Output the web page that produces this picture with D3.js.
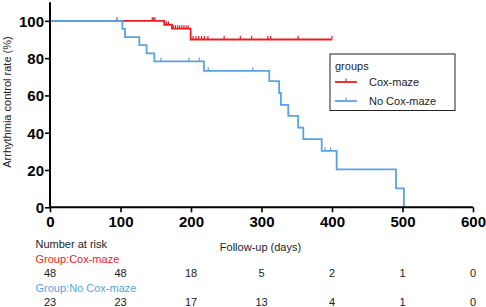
<!DOCTYPE html>
<html>
<head>
<meta charset="utf-8">
<script src="https://cdn.jsdelivr.net/npm/d3@7"></script>
<style>
html,body{margin:0;padding:0;background:#fff;}
svg{display:block;font-family:"Liberation Sans",Arial,sans-serif;}
</style>
</head>
<body>
<svg id="chart" width="486" height="307"></svg>
<script>
// ---- data ----
const groups = ["Cox-maze", "No Cox-maze"];
const colors = ["#ec1c24", "#5aa2e8"];
const coxTimes  = [0, 162, 173, 199.5, 400];
const coxSurv   = [100, 97.9, 95.8, 90, 90];
const coxCensor = [95, 145, 147, 149, 165, 168, 175, 178, 181, 184, 187, 190, 193, 196, 203, 207, 211, 215, 219, 224, 247, 270, 286, 309, 313, 352, 400];
const noTimes   = [0, 102.6, 106.4, 126.7, 137, 148, 218.4, 311, 325, 327.5, 338, 352, 359.3, 385.4, 406.6, 490.8, 502];
const noSurv    = [100, 95.7, 91.3, 87, 82.6, 78.3, 73.2, 67.7, 61.3, 54.9, 49, 42.7, 36.6, 30.3, 20.3, 10.2, 0];
const noCensor  = [157.4, 197, 211.8, 224.5, 287.5, 390, 398];
const xTicks = [0, 100, 200, 300, 400, 500, 600];
const yTicks = [0, 20, 40, 60, 80, 100];
const riskTimes = [0, 100, 200, 300, 400, 500, 600];
const riskCox = [48, 48, 18, 5, 2, 1, 0];
const riskNo  = [23, 23, 17, 13, 4, 1, 0];

// ---- chart ----
const svg = d3.select("#chart");
const x = d3.scaleLinear().domain([0, 600]).range([50, 473]);
const y = d3.scaleLinear().domain([0, 110]).range([207.3, 2.2]);

function survAt(times, surv, t) {
  let v = surv[0];
  for (let i = 0; i < times.length; i++) if (times[i] <= t) v = surv[i];
  return v;
}

const line = d3.line().x(d => x(d[0])).y(d => y(d[1])).curve(d3.curveStepAfter);
const series = [
  {times: coxTimes, surv: coxSurv, cens: coxCensor, color: colors[0]},
  {times: noTimes, surv: noSurv, cens: noCensor, color: colors[1]}
];

series.forEach(s => {
  const pts = s.times.map((t, i) => [t, s.surv[i]]);
  svg.append("path").attr("d", line(pts)).attr("fill", "none")
    .attr("stroke", s.color).attr("stroke-width", 1.8);
  svg.selectAll(null).data(s.cens).enter().append("line")
    .attr("x1", d => x(d)).attr("x2", d => x(d))
    .attr("y1", d => y(survAt(s.times, s.surv, d)))
    .attr("y2", d => y(survAt(s.times, s.surv, d)) - 3.5)
    .attr("stroke", s.color).attr("stroke-width", 1.2);
});

// axes
const xAxis = svg.append("g").attr("transform", `translate(0,${y(0)})`)
  .call(d3.axisBottom(x).tickValues(xTicks).tickSize(5).tickPadding(4).tickSizeOuter(0));
const yAxis = svg.append("g").attr("transform", `translate(${x(0)},0)`)
  .call(d3.axisLeft(y).tickValues(yTicks).tickSize(5).tickPadding(1).tickSizeOuter(0));
[xAxis, yAxis].forEach(g => {
  g.select(".domain").attr("stroke", "#000").attr("stroke-width", 2);
  g.selectAll(".tick line").attr("stroke", "#000").attr("stroke-width", 1.6);
  g.selectAll(".tick text").attr("fill", "#000").attr("font-weight", "bold")
    .attr("font-family", "Liberation Sans, Arial, sans-serif");
});
xAxis.selectAll(".tick text").attr("font-size", 15);
yAxis.selectAll(".tick text").attr("font-size", 15).attr("dy", "0.36em");
yAxis.select(".domain").attr("d", `M0,${y(0) + 1}V${y(110)}`);
xAxis.select(".domain").attr("d", `M${x(0) - 1},0H${x(600)}`);

// titles
svg.append("text").attr("transform", `translate(10.5,102) rotate(-90)`)
  .attr("text-anchor", "middle").attr("font-size", 11).attr("fill", "#222")
  .text("Arrhythmia control rate (%)");
svg.append("text").attr("x", 260.5).attr("y", 250.5)
  .attr("text-anchor", "middle").attr("font-size", 11).attr("fill", "#222")
  .text("Follow-up (days)");

// legend
const lg = svg.append("g");
lg.append("rect").attr("x", 330).attr("y", 54).attr("width", 125).attr("height", 56.5)
  .attr("fill", "#fff").attr("stroke", "#222").attr("stroke-width", 1);
lg.append("text").attr("x", 335).attr("y", 70).attr("font-size", 11).attr("fill", "#222").text("groups");
groups.forEach((gname, i) => {
  const ly = 82 + i * 19;
  lg.append("line").attr("x1", 335).attr("x2", 357).attr("y1", ly).attr("y2", ly)
    .attr("stroke", colors[i]).attr("stroke-width", 1.8);
  lg.append("line").attr("x1", 346).attr("x2", 346).attr("y1", ly).attr("y2", ly - 3.5)
    .attr("stroke", colors[i]).attr("stroke-width", 1.2);
  lg.append("text").attr("x", 369).attr("y", ly + 4).attr("font-size", 11).attr("fill", "#222").text(gname);
});

// number at risk table
svg.append("text").attr("x", 35.5).attr("y", 248.3).attr("font-size", 11).attr("fill", "#222").text("Number at risk");
svg.append("text").attr("x", 35.5).attr("y", 263.3).attr("font-size", 11).attr("fill", colors[0]).text("Group:" + groups[0]);
svg.append("text").attr("x", 35.5).attr("y", 291.7).attr("font-size", 11).attr("fill", colors[1]).text("Group:" + groups[1]);
svg.selectAll(null).data(riskTimes).enter().append("text")
  .attr("x", d => x(d)).attr("y", 277.3).attr("text-anchor", "middle")
  .attr("font-size", 11).attr("fill", "#222").text((d, i) => riskCox[i]);
svg.selectAll(null).data(riskTimes).enter().append("text")
  .attr("x", d => x(d)).attr("y", 305.7).attr("text-anchor", "middle")
  .attr("font-size", 11).attr("fill", "#222").text((d, i) => riskNo[i]);
</script>
</body>
</html>
